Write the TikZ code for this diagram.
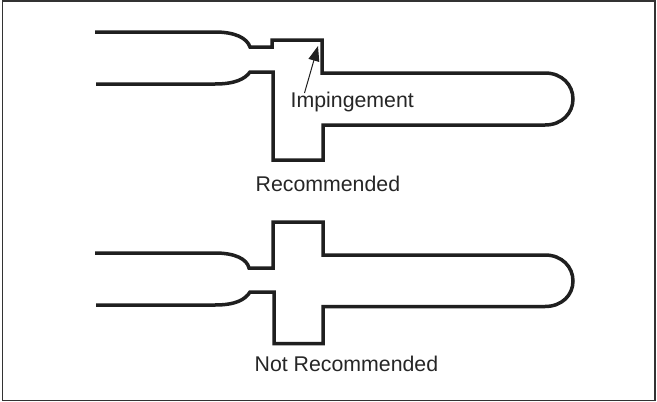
\documentclass[tikz,border=0pt]{standalone}
\usepackage{fontspec}
\setmainfont{Liberation Sans}
\usetikzlibrary{arrows.meta}
\tikzset{
 wall/.style={line width=3.5pt,draw=black!88,line join=miter},
 frame/.style={line width=1.1pt,draw=black!80},
 lbl/.style={inner sep=0pt,font=\fontsize{21.3}{24}\selectfont,text=black!85,anchor=base west},
 pointer/.style={line width=1pt,draw=black!88,-{Stealth[length=15pt,width=11pt,inset=0pt,fill=black!88]}}
}
\begin{document}
\begin{tikzpicture}[x=1pt,y=-1pt]
\useasboundingbox (0,0) rectangle (657,402);
\fill[white] (0,0) rectangle (657,402);
\draw[frame] (2.5,1) rectangle (655,400.3);
% upper
\draw[wall] (95,32) -- (215,32) .. controls (235,32) and (247,38) .. (250,47) -- (272,47) -- (272,40) -- (322,40) -- (322,73) -- (545,73)
  .. controls (562,73) and (573,85) .. (573,99) .. controls (573,113) and (562,125) .. (545,125)
  -- (323,125) -- (323,160) -- (273,160) -- (273,72) -- (250,72) .. controls (245,79) and (235,84) .. (215,84) -- (96,84);
% lower
\draw[wall] (95,253) -- (215,253) .. controls (235,253) and (247,259) .. (249,268) -- (273,268) -- (273,222) -- (323,222) -- (323,255) -- (545,255)
  .. controls (562,255) and (573,267) .. (573,281) .. controls (573,295) and (562,306.5) .. (545,306.5)
  -- (323,306.5) -- (323,343.5) -- (274,343.5) -- (274,292) -- (250,292) .. controls (245,300) and (235,305) .. (215,305) -- (96,305);
\node[lbl] (imp) at (290.5,107) {Impingement};
\node[lbl] (rec) at (255.5,191) {Recommended};
\node[lbl] (notrec) at (254.5,371) {Not Recommended};
\coordinate (tip) at (318,46);
\draw[pointer] (304.5,93) -- (tip);
\end{tikzpicture}
\end{document}
